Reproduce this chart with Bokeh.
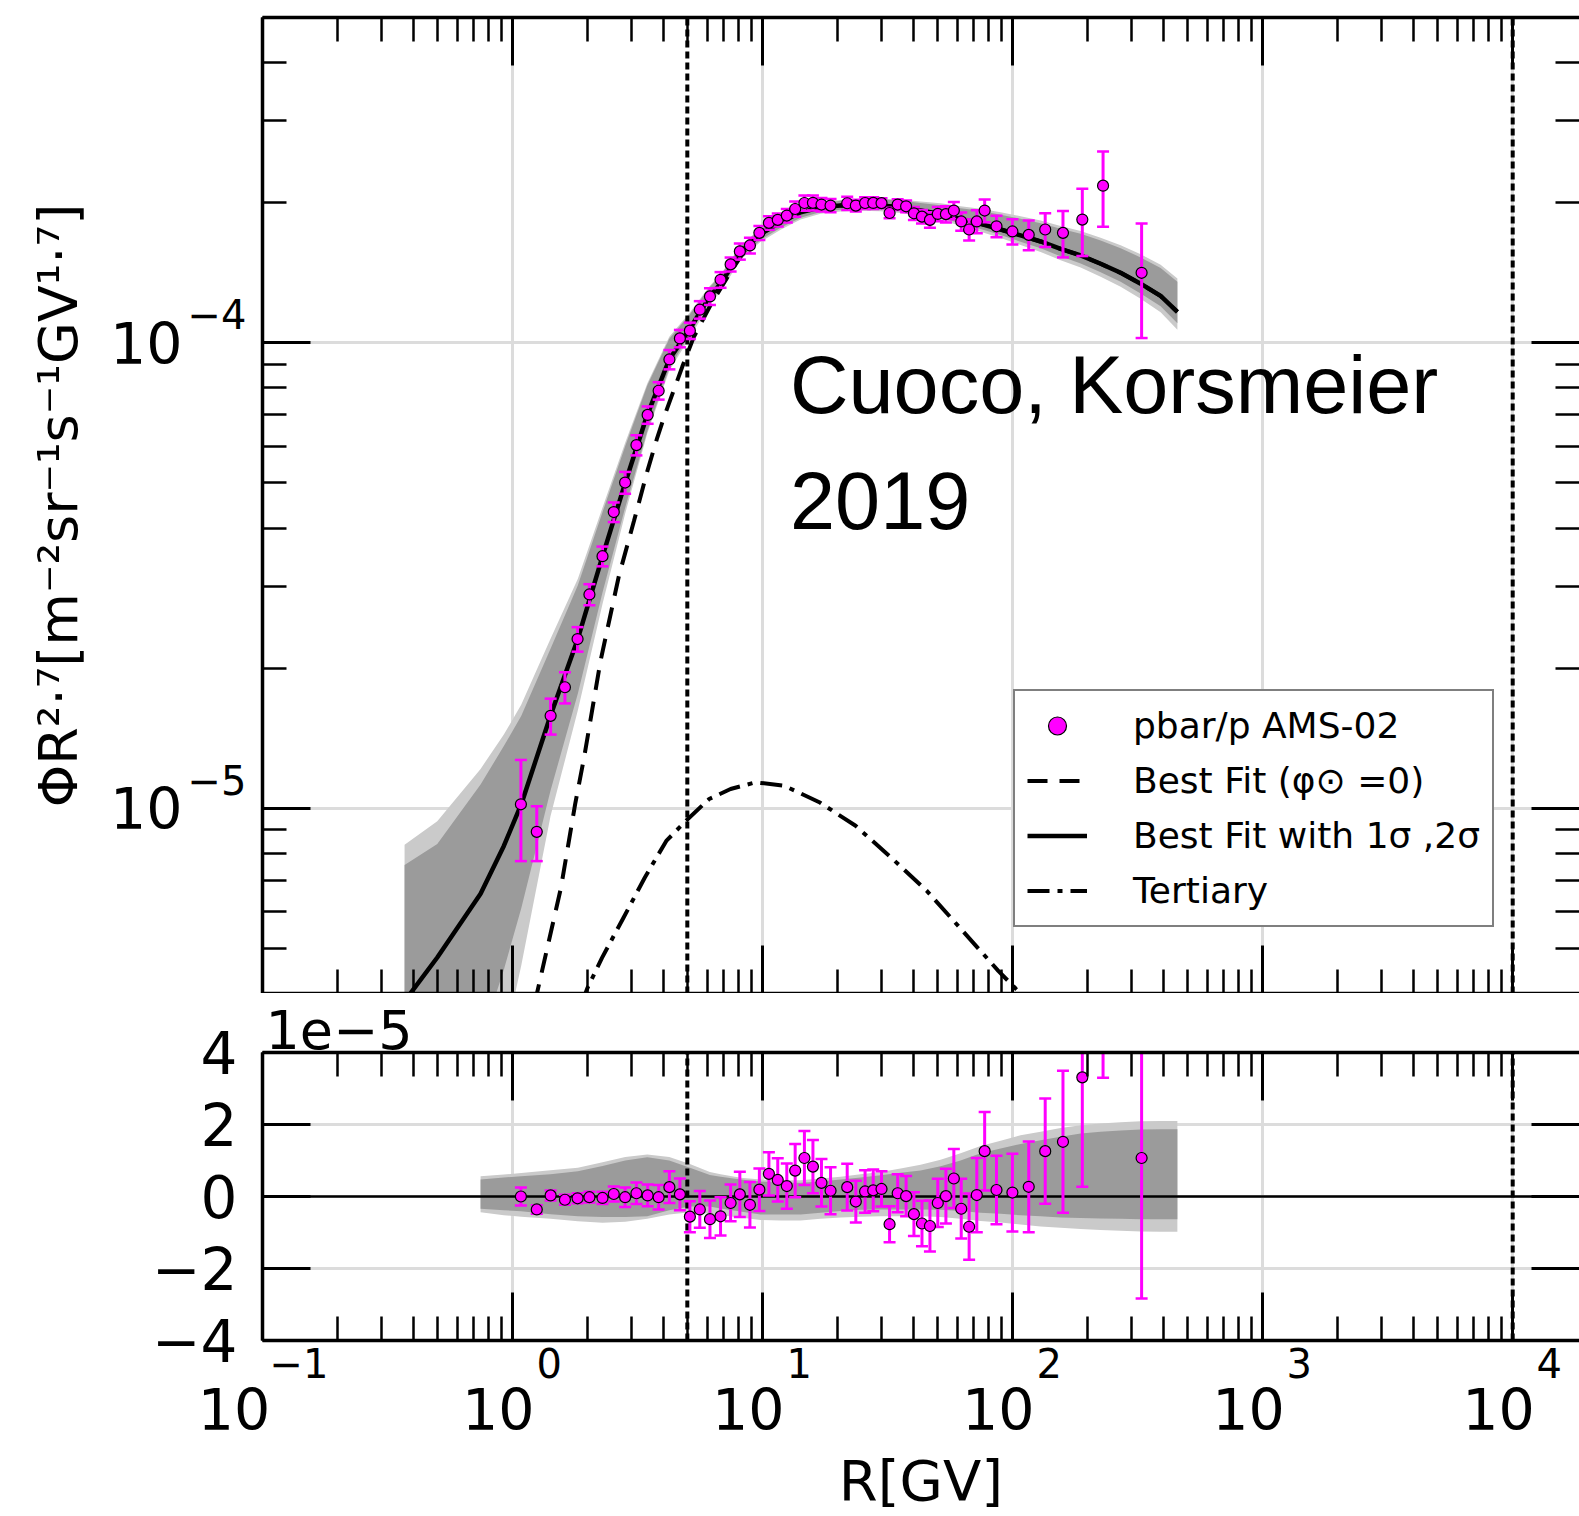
import math
from bokeh.plotting import figure
from bokeh.layouts import column
from bokeh.models import (FixedTicker, LogAxis, LinearAxis, Label, Legend, LegendItem,
                          CustomJSTickFormatter, Range1d, Title)
from bokeh.embed import file_html
from bokeh.resources import INLINE

# ---------------- data (flux-like values in units of 1e-5) ----------------
SCALE = 1e-5

R_data = [1.08, 1.25, 1.42, 1.62, 1.82, 2.03, 2.29, 2.54, 2.82, 3.13, 3.47, 3.84, 4.24, 4.67,
          5.12, 5.61, 6.16, 6.79, 7.45, 8.11, 8.90, 9.71, 10.6, 11.5, 12.5, 13.5, 14.7, 15.9,
          17.2, 18.7, 21.8, 23.6, 25.7, 27.7, 29.9, 32.2, 34.7, 37.5, 40.3, 43.4, 46.7, 50.2,
          54.1, 58.2, 62.3, 67.0, 71.9, 77.3, 86.2, 99.8, 116, 135, 159, 190, 230, 328]
flux_data = [1.02, 0.89, 1.58, 1.82, 2.31, 2.88, 3.48, 4.33, 5.01, 6.03, 7.00, 7.89, 9.21, 10.22,
             10.62, 11.78, 12.58, 13.66, 14.74, 15.72, 16.19, 17.23, 18.10, 18.37, 18.77, 19.39,
             19.97, 19.99, 19.82, 19.72, 19.95, 19.72, 19.97, 19.98, 19.96, 19.01, 19.82, 19.65,
             18.98, 18.67, 18.37, 18.92, 18.90, 19.24, 18.23, 17.52, 18.23, 19.24, 17.80, 17.35,
             17.06, 17.52, 17.23, 18.40, 21.76, 14.14]
err_data = [0.25, 0.12, 0.14, 0.14, 0.14, 0.15, 0.17, 0.21, 0.27, 0.30, 0.30, 0.34, 0.44, 0.44,
            0.43, 0.51, 0.52, 0.53, 0.51, 0.63, 0.63, 0.59, 0.60, 0.60, 0.63, 0.74, 0.75, 0.74,
            0.66, 0.65, 0.65, 0.58, 0.59, 0.58, 0.49, 0.50, 0.53, 0.56, 0.61, 0.63, 0.71, 0.67,
            0.76, 0.82, 0.83, 0.92, 1.03, 1.09, 0.95, 1.08, 1.26, 1.46, 1.97, 3.04, 4.0, 3.9]
resid_data = [0.0, -0.36, 0.03, -0.09, -0.05, -0.02, -0.04, 0.07, -0.02, 0.09, 0.03, -0.02, 0.26,
              0.06, -0.56, -0.36, -0.63, -0.55, -0.18, 0.06, -0.23, 0.19, 0.63, 0.46, 0.29, 0.72,
              1.07, 0.83, 0.38, 0.16, 0.26, -0.14, 0.14, 0.17, 0.21, -0.77, 0.09, 0.01, -0.49,
              -0.75, -0.82, -0.18, 0.01, 0.50, -0.34, -0.84, 0.04, 1.26, 0.18, 0.11, 0.27, 1.26,
              1.52, 3.31, 7.3, 1.07]

# best fit and its 1 sigma / 2 sigma band offsets
model_R = [0.37, 0.50, 0.745, 0.923, 1.083, 1.419, 1.825, 2.291, 2.824, 3.458, 4.235, 5.12,
           6.155, 6.792, 8.166, 9.817, 11.8, 14.19, 17.06, 20.51, 24.66, 29.65, 35.65, 42.85,
           51.52, 61.94, 74.47, 89.54, 107.6, 129.4, 155.6, 187.1, 224.9, 270.4, 325.1, 390.8, 456]
model_F = [0.385, 0.478, 0.655, 0.83, 1.019, 1.582, 2.314, 3.48, 5.006, 7.004, 9.21, 10.72,
           12.58, 13.4, 15.66, 17.14, 18.16, 19.07, 19.55, 19.72, 19.78, 19.72, 19.55, 19.24,
           18.92, 18.46, 18.01, 17.52, 17.01, 16.51, 15.92, 15.41, 14.79, 14.14, 13.40, 12.61, 11.65]
band_up2 = [0.45, 0.46, 0.56, 0.61, 0.65, 0.73, 0.80, 0.95, 1.10, 1.17, 1.10, 0.90, 0.68, 0.62,
            0.52, 0.47, 0.45, 0.45, 0.50, 0.55, 0.62, 0.68, 0.78, 0.88, 1.02, 1.20, 1.40, 1.55,
            1.70, 1.80, 1.90, 1.98, 2.03, 2.06, 2.09, 2.10, 2.10]
band_up1 = [0.37, 0.36, 0.47, 0.53, 0.56, 0.62, 0.70, 0.85, 1.00, 1.09, 1.00, 0.80, 0.60, 0.55,
            0.47, 0.42, 0.38, 0.38, 0.42, 0.47, 0.53, 0.59, 0.66, 0.72, 0.84, 1.00, 1.20, 1.33,
            1.46, 1.56, 1.66, 1.75, 1.80, 1.83, 1.86, 1.87, 1.87]
band_lo1 = [0.39, 0.36, 0.34, 0.38, 0.41, 0.49, 0.55, 0.57, 0.57, 0.55, 0.38, 0.28, 0.28, 0.33,
            0.42, 0.50, 0.50, 0.50, 0.45, 0.40, 0.37, 0.36, 0.36, 0.36, 0.37, 0.40, 0.45, 0.48,
            0.52, 0.55, 0.58, 0.60, 0.61, 0.62, 0.63, 0.63, 0.63]
band_lo2 = [0.45, 0.46, 0.44, 0.52, 0.56, 0.62, 0.69, 0.73, 0.70, 0.62, 0.50, 0.44, 0.48, 0.52,
            0.58, 0.65, 0.67, 0.67, 0.62, 0.58, 0.56, 0.55, 0.55, 0.55, 0.57, 0.62, 0.68, 0.72,
            0.78, 0.83, 0.87, 0.90, 0.93, 0.95, 0.97, 0.98, 0.98]
resid_band_min_R = 0.74

phi0_R = [1.225, 1.302, 1.562, 1.78, 1.934, 2.249, 2.662, 3.057, 3.458, 3.793, 4.029, 4.773,
          5.311, 6.194, 7.447, 8.686, 9.817, 11.8, 14.19, 17.06, 20.51, 24.66, 29.65, 35.65,
          42.85, 51.52, 61.94, 74.47, 89.54, 107.6, 129.4, 155.6, 187.1, 224.9, 270.4, 325.1,
          390.8, 456]
phi0_F = [0.38, 0.439, 0.675, 1.021, 1.287, 2.074, 3.154, 4.136, 5.293, 6.26, 6.91, 8.88,
          10.30, 12.06, 14.19, 16.1, 17.14, 18.16, 19.07, 19.55, 19.72, 19.78, 19.72, 19.55,
          19.24, 18.92, 18.46, 18.01, 17.52, 17.01, 16.51, 15.92, 15.41, 14.79, 14.14, 13.40,
          12.61, 11.65]

tert_R = [1.87, 1.997, 2.279, 2.778, 3.382, 4.12, 4.94, 6.114, 7.447, 9.376, 12.2, 16.95, 23.55,
          32.72, 45.46, 63.15, 87.83, 107, 117]
tert_F = [0.375, 0.412, 0.477, 0.582, 0.710, 0.851, 0.940, 1.047, 1.100, 1.137, 1.118, 1.029,
          0.917, 0.783, 0.664, 0.545, 0.447, 0.401, 0.38]

vline_R = [5.0, 1.0e4]

x_major = [0.1, 1, 10, 100, 1000, 10000]
x_exp = ["\u22121", "0", "1", "2", "3", "4"]
ytop_major = [1e-5, 1e-4]
ytop_exp = ["\u22125", "\u22124"]
ybot_major = [-4, -2, 0, 2, 4]

X_RANGE = (0.1, 1.85e4)
YTOP_RANGE = (4e-6, 5e-4)
YBOT_RANGE = (-4, 4)

MAGENTA = "#ff00ff"
LIGHT = "#cacaca"
DARK = "#9b9b9b"
GRID = "#dcdcdc"
FONT = "DejaVu Sans"

x_minor = [m * 10.0 ** k for k in range(-1, 5) for m in range(2, 10)]
ytop_minor = [m * 10.0 ** k for k in range(-6, -3) for m in range(2, 10)]

xr = Range1d(*X_RANGE)

# spacing characters used to offset the "10" base and its exponent like a superscript
EM, EN, THIRD = "\u2003", "\u2002", "\u2004"


def pad_base(e):
    return "10" + (EM if len(e) > 1 else EN)


def pad_exp(e):
    return EM + EN + THIRD + e


def style_axis(ax, major, minor, line=True):
    ax.ticker = FixedTicker(ticks=major, minor_ticks=minor)
    ax.major_tick_in = 48
    ax.major_tick_out = 0
    ax.minor_tick_in = 24
    ax.minor_tick_out = 0
    ax.major_tick_line_width = 3
    ax.minor_tick_line_width = 2.5
    ax.major_tick_line_color = "black"
    ax.minor_tick_line_color = "black"
    ax.axis_line_width = 3.5
    ax.axis_line_color = "black" if line else None
    ax.major_label_text_color = "black"
    ax.major_label_text_font = FONT
    ax.axis_label_text_color = "black"
    ax.axis_label_text_font = FONT
    ax.axis_label_text_font_style = "normal"


def hide_labels(ax):
    ax.formatter = CustomJSTickFormatter(code="return '';")
    ax.major_label_text_font_size = "1px"
    ax.major_label_standoff = 0
    ax.axis_label_standoff = 0


def label_axis(ax, labels, k0, size, standoff):
    ax.formatter = CustomJSTickFormatter(
        args=dict(labels=labels, k0=k0),
        code="const i = Math.round(Math.log10(tick)) - k0; return labels[i];")
    ax.major_label_text_font_size = size
    ax.major_label_standoff = standoff


def bare_axis(ax, major):
    ax.ticker = FixedTicker(ticks=major, minor_ticks=[])
    ax.major_tick_in = 0
    ax.major_tick_out = 0
    ax.minor_tick_in = 0
    ax.minor_tick_out = 0
    ax.major_tick_line_color = None
    ax.minor_tick_line_color = None
    ax.axis_line_color = None
    ax.major_label_text_color = "black"
    ax.major_label_text_font = FONT
    ax.axis_label_text_color = "black"
    ax.axis_label_text_font = FONT
    ax.axis_label_text_font_style = "normal"


# ---------------- top panel ----------------
p1 = figure(width=1579, height=993, x_axis_type="log", y_axis_type="log",
            x_range=xr, y_range=Range1d(*YTOP_RANGE),
            output_backend="svg", toolbar_location=None,
            min_border_left=262, min_border_right=0, min_border_top=17, min_border_bottom=0,
            background_fill_color="white", border_fill_color="white", outline_line_color=None)
p1.add_layout(LogAxis(), "above")
p1.add_layout(LogAxis(), "right")
yb1 = LogAxis()
p1.add_layout(yb1, "left")
for ax in p1.xaxis:
    style_axis(ax, x_major, x_minor)
    hide_labels(ax)
ya1 = p1.left[0]
style_axis(ya1, ytop_major, ytop_minor)
label_axis(ya1, [e + "\n" + EM for e in ytop_exp], -5, "40px", 16)
bare_axis(yb1, ytop_major)
label_axis(yb1, ["10" for _ in ytop_exp], -5, "57px", 2)
yb1.axis_label = "\u03a6R\u00b2\u00b7\u2077[m\u207b\u00b2sr\u207b\u00b9s\u207b\u00b9GV\u00b9\u00b7\u2077]"
yb1.axis_label_text_font_size = "54px"
yb1.axis_label_standoff = 17
style_axis(p1.right[0], ytop_major, ytop_minor, line=False)
hide_labels(p1.right[0])

p1.xgrid.ticker = FixedTicker(ticks=x_major)
p1.ygrid.ticker = FixedTicker(ticks=ytop_major)
p1.grid.grid_line_color = GRID
p1.grid.grid_line_width = 3

F_abs = [f * SCALE for f in model_F]
p1.varea(x=model_R,
         y1=[max(f - lo, 0.01) * SCALE for f, lo in zip(model_F, band_lo2)],
         y2=[(f + up) * SCALE for f, up in zip(model_F, band_up2)],
         fill_color=LIGHT)
p1.varea(x=model_R,
         y1=[max(f - lo, 0.01) * SCALE for f, lo in zip(model_F, band_lo1)],
         y2=[(f + up) * SCALE for f, up in zip(model_F, band_up1)],
         fill_color=DARK)

for v in vline_R:
    p1.line(x=[v, v], y=list(YTOP_RANGE), line_color="black", line_width=4, line_dash="7 4")

phi0_line = p1.line(x=phi0_R, y=[f * SCALE for f in phi0_F], line_color="black",
                    line_width=4, line_dash="20 12")
tert_line = p1.line(x=tert_R, y=[f * SCALE for f in tert_F], line_color="black",
                    line_width=4, line_dash="22 8 5 8")
fit_line = p1.line(x=model_R, y=F_abs, line_color="black", line_width=4.5)

lo_top = [(f - e) * SCALE for f, e in zip(flux_data, err_data)]
hi_top = [(f + e) * SCALE for f, e in zip(flux_data, err_data)]
p1.segment(x0=R_data, y0=lo_top, x1=R_data, y1=hi_top, line_color=MAGENTA, line_width=3)
p1.scatter(x=R_data + R_data, y=lo_top + hi_top, marker="dash", size=12,
           line_color=MAGENTA, line_width=2.5)
pts = p1.scatter(x=R_data, y=[f * SCALE for f in flux_data], size=11, fill_color=MAGENTA,
                 line_color="black", line_width=1.2)

legend = Legend(items=[LegendItem(label="pbar/p AMS-02", renderers=[pts]),
                       LegendItem(label="Best Fit (\u03c6\u2299 =0)", renderers=[phi0_line]),
                       LegendItem(label="Best Fit with 1\u03c3 ,2\u03c3", renderers=[fit_line]),
                       LegendItem(label="Tertiary", renderers=[tert_line])],
                location=(751, 66), orientation="vertical",
                label_text_font=FONT, label_text_font_size="36px", label_text_color="black",
                glyph_width=60, glyph_height=45, spacing=10, padding=12, margin=0,
                label_standoff=46, border_line_color="black", border_line_width=2,
                background_fill_color="white", background_fill_alpha=1.0)
p1.add_layout(legend, "center")

p1.add_layout(Label(x=12.88, y=8.12e-5, text="Cuoco, Korsmeier", text_align="left",
                    text_baseline="alphabetic", text_font="Liberation Sans",
                    text_font_size="81px", text_color="black"))
p1.add_layout(Label(x=12.88, y=4.59e-5, text="2019", text_align="left",
                    text_baseline="alphabetic", text_font="Liberation Sans",
                    text_font_size="81px", text_color="black"))

# ---------------- residual panel ----------------
p2 = figure(width=1579, height=523, x_axis_type="log", x_range=xr, y_range=Range1d(*YBOT_RANGE),
            output_backend="svg", toolbar_location=None,
            min_border_left=262, min_border_right=0, min_border_top=59, min_border_bottom=176,
            background_fill_color="white", border_fill_color="white", outline_line_color=None)
xt2 = LogAxis()
p2.add_layout(xt2, "above")
p2.add_layout(Title(text="1e\u22125", align="left", offset=3, text_font=FONT,
                    text_font_size="54px", text_color="black", text_font_style="normal",
                    standoff=7), "above")
p2.add_layout(LinearAxis(), "right")
xb2 = LogAxis()
p2.add_layout(xb2, "below")

xa2 = p2.below[0]
style_axis(xa2, x_major, x_minor)
label_axis(xa2, [pad_exp(e) for e in x_exp], -1, "40px", 0)
bare_axis(xb2, x_major)
label_axis(xb2, [pad_base(e) for e in x_exp], -1, "57px", -13)
xb2.axis_label = "R[GV]"
xb2.axis_label_text_font_size = "56px"
xb2.axis_label_standoff = 2

style_axis(xt2, x_major, x_minor)
hide_labels(xt2)

ya2 = p2.left[0]
style_axis(ya2, ybot_major, [])
ya2.formatter = CustomJSTickFormatter(
    code="return tick < 0 ? '\\u2212' + String(-tick) : String(tick);")
ya2.major_label_text_font_size = "58px"
ya2.major_label_standoff = 25
style_axis(p2.right[0], ybot_major, [], line=False)
hide_labels(p2.right[0])

p2.xgrid.ticker = FixedTicker(ticks=x_major)
p2.ygrid.ticker = FixedTicker(ticks=ybot_major)
p2.grid.grid_line_color = GRID
p2.grid.grid_line_width = 3

idx = [i for i, r in enumerate(model_R) if r >= resid_band_min_R]
bR = [model_R[i] for i in idx]
p2.varea(x=bR, y1=[-band_lo2[i] for i in idx], y2=[band_up2[i] for i in idx], fill_color=LIGHT)
p2.varea(x=bR, y1=[-band_lo1[i] for i in idx], y2=[band_up1[i] for i in idx], fill_color=DARK)

p2.line(x=list(X_RANGE), y=[0, 0], line_color="black", line_width=2.5)
for v in vline_R:
    p2.line(x=[v, v], y=list(YBOT_RANGE), line_color="black", line_width=4, line_dash="7 4")

lo_b = [r - e for r, e in zip(resid_data, err_data)]
hi_b = [r + e for r, e in zip(resid_data, err_data)]
p2.segment(x0=R_data, y0=lo_b, x1=R_data, y1=hi_b, line_color=MAGENTA, line_width=3)
p2.scatter(x=R_data + R_data, y=lo_b + hi_b, marker="dash", size=12,
           line_color=MAGENTA, line_width=2.5)
p2.scatter(x=R_data, y=resid_data, size=11, fill_color=MAGENTA, line_color="black",
           line_width=1.2)

layout = column(p1, p2)
open("out.html", "w").write(file_html(layout, INLINE))
